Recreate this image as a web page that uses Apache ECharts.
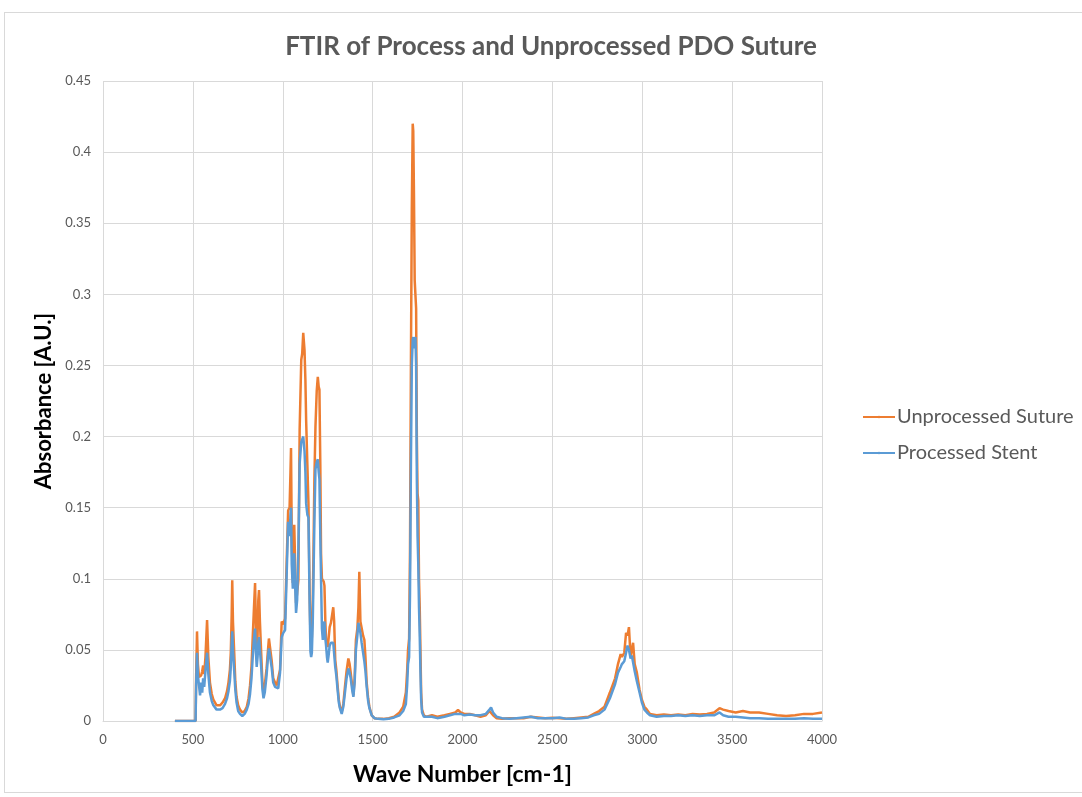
<!DOCTYPE html>
<html>
<head>
<meta charset="utf-8">
<title>FTIR of Process and Unprocessed PDO Suture</title>
<script src="https://cdn.jsdelivr.net/npm/echarts@6/dist/echarts.min.js"></script>
<style>
  html, body { margin: 0; padding: 0; background: #ffffff; }
  #frame { position: absolute; left: 4px; top: 12px; width: 1100px; height: 781px;
           border: 1px solid #d9d9d9; box-sizing: border-box; }
  #chart { position: absolute; left: 0; top: 0; width: 1082px; height: 797px; }
</style>
</head>
<body>
<div id="frame"></div>
<div id="chart"></div>
<script>
// Wavenumbers (cm-1) shared by both spectra
const wavenumber = [
  400, 515, 518, 523, 528, 534, 540, 546, 552, 557, 563, 570, 579, 586, 595, 605, 614, 632, 651, 665,
  679, 690, 698, 706, 711, 716, 719, 723, 730, 736, 743, 752, 762, 775, 788, 800, 810, 818, 826, 833,
  840, 846, 851, 855, 860, 864, 868, 873, 880, 887, 893, 900, 910, 918, 923, 929, 938, 947, 957, 966,
  975, 985, 994, 1003, 1013, 1020, 1030, 1038, 1043, 1046, 1050, 1056, 1060, 1064, 1069, 1074, 1080, 1087, 1094, 1103,
  1108, 1114, 1121, 1126, 1130, 1137, 1143, 1149, 1154, 1158, 1162, 1167, 1171, 1176, 1182, 1189, 1195, 1200, 1204, 1209,
  1213, 1218, 1223, 1228, 1232, 1237, 1241, 1246, 1250, 1255, 1261, 1268, 1275, 1281, 1286, 1292, 1298, 1305, 1312, 1318,
  1328, 1337, 1346, 1355, 1365, 1372, 1378, 1386, 1393, 1400, 1407, 1415, 1421, 1426, 1432, 1439, 1447, 1454, 1460, 1467,
  1475, 1482, 1495, 1510, 1530, 1560, 1590, 1620, 1650, 1670, 1685, 1692, 1697, 1703, 1708, 1713, 1718, 1723, 1726, 1730,
  1734, 1738, 1742, 1746, 1750, 1754, 1758, 1762, 1766, 1770, 1775, 1785, 1800, 1830, 1860, 1900, 1930, 1960, 1975, 1990,
  2010, 2040, 2070, 2100, 2130, 2150, 2159, 2170, 2190, 2220, 2260, 2300, 2340, 2380, 2420, 2460, 2500, 2540, 2580, 2620,
  2660, 2700, 2730, 2760, 2790, 2820, 2849, 2865, 2880, 2887, 2900, 2910, 2918, 2926, 2935, 2942, 2949, 2958, 2970, 2985,
  2998, 3012, 3026, 3043, 3080, 3120, 3160, 3200, 3240, 3280, 3320, 3360, 3400, 3430, 3450, 3480, 3520, 3560, 3600, 3650,
  3700, 3750, 3800, 3850, 3900, 3950, 4000
];

// Absorbance of the unprocessed suture
const unprocessedSuture = [
  0, 0, 0.03, 0.063, 0.04, 0.031, 0.03, 0.032, 0.035, 0.039, 0.033, 0.045, 0.071, 0.045, 0.027, 0.019, 0.015, 0.011, 0.011, 0.013,
  0.016, 0.021, 0.027, 0.036, 0.048, 0.075, 0.099, 0.07, 0.048, 0.028, 0.017, 0.011, 0.008, 0.006, 0.007, 0.01, 0.016, 0.025, 0.038, 0.059,
  0.08, 0.097, 0.065, 0.045, 0.06, 0.085, 0.092, 0.07, 0.048, 0.027, 0.02, 0.025, 0.037, 0.05, 0.058, 0.057, 0.043, 0.03, 0.027, 0.025,
  0.025, 0.036, 0.07, 0.068, 0.072, 0.104, 0.148, 0.15, 0.175, 0.192, 0.13, 0.097, 0.12, 0.138, 0.11, 0.083, 0.09, 0.099, 0.205, 0.254,
  0.258, 0.273, 0.261, 0.24, 0.212, 0.18, 0.153, 0.094, 0.059, 0.056, 0.059, 0.085, 0.118, 0.17, 0.207, 0.232, 0.242, 0.235, 0.233, 0.18,
  0.118, 0.1, 0.099, 0.098, 0.095, 0.07, 0.057, 0.055, 0.052, 0.058, 0.066, 0.069, 0.07, 0.08, 0.07, 0.043, 0.036, 0.025, 0.015, 0.01,
  0.0064, 0.012, 0.024, 0.035, 0.044, 0.04, 0.034, 0.025, 0.018, 0.03, 0.057, 0.065, 0.08, 0.105, 0.07, 0.069, 0.06, 0.057, 0.045, 0.027,
  0.016, 0.01, 0.004, 0.002, 0.0015, 0.0015, 0.002, 0.003, 0.006, 0.01, 0.02, 0.035, 0.05, 0.058, 0.12, 0.25, 0.36, 0.42, 0.415, 0.37,
  0.31, 0.3, 0.29, 0.2, 0.16, 0.155, 0.1, 0.08, 0.05, 0.02, 0.008, 0.004, 0.003, 0.004, 0.003, 0.004, 0.005, 0.006, 0.0077, 0.006,
  0.005, 0.005, 0.004, 0.003, 0.004, 0.007, 0.006, 0.004, 0.002, 0.0015, 0.002, 0.002, 0.002, 0.003, 0.0025, 0.002, 0.0022, 0.002, 0.0015, 0.002,
  0.0025, 0.003, 0.005, 0.007, 0.01, 0.02, 0.03, 0.04, 0.047, 0.045, 0.048, 0.062, 0.06, 0.066, 0.045, 0.05, 0.055, 0.04, 0.034, 0.022,
  0.015, 0.01, 0.008, 0.005, 0.004, 0.0045, 0.004, 0.0045, 0.004, 0.005, 0.0045, 0.005, 0.006, 0.009, 0.008, 0.007, 0.006, 0.007, 0.006, 0.006,
  0.005, 0.004, 0.0035, 0.004, 0.005, 0.005, 0.006
];

// Absorbance of the processed stent
const processedStent = [
  0, 0, 0.025, 0.048, 0.032, 0.025, 0.018, 0.027, 0.02, 0.03, 0.024, 0.035, 0.048, 0.033, 0.02, 0.014, 0.011, 0.008, 0.008, 0.009,
  0.012, 0.016, 0.021, 0.028, 0.038, 0.055, 0.063, 0.05, 0.035, 0.022, 0.013, 0.007, 0.005, 0.0035, 0.005, 0.008, 0.012, 0.019, 0.03, 0.045,
  0.058, 0.065, 0.048, 0.038, 0.045, 0.055, 0.059, 0.05, 0.038, 0.022, 0.016, 0.02, 0.032, 0.045, 0.051, 0.05, 0.038, 0.027, 0.024, 0.023,
  0.023, 0.034, 0.059, 0.062, 0.064, 0.095, 0.14, 0.13, 0.145, 0.15, 0.11, 0.093, 0.105, 0.118, 0.095, 0.076, 0.085, 0.12, 0.181, 0.196,
  0.198, 0.2, 0.19, 0.175, 0.153, 0.145, 0.143, 0.087, 0.049, 0.045, 0.048, 0.07, 0.1, 0.14, 0.177, 0.182, 0.184, 0.175, 0.17, 0.13,
  0.1, 0.065, 0.057, 0.065, 0.07, 0.058, 0.053, 0.045, 0.041, 0.046, 0.053, 0.055, 0.054, 0.055, 0.055, 0.038, 0.032, 0.022, 0.013, 0.009,
  0.005, 0.01, 0.02, 0.03, 0.037, 0.034, 0.03, 0.022, 0.017, 0.027, 0.05, 0.06, 0.069, 0.069, 0.062, 0.055, 0.048, 0.042, 0.035, 0.024,
  0.014, 0.009, 0.004, 0.002, 0.0015, 0.0012, 0.0015, 0.0025, 0.004, 0.007, 0.012, 0.025, 0.04, 0.045, 0.09, 0.18, 0.25, 0.268, 0.27, 0.262,
  0.265, 0.27, 0.25, 0.17, 0.13, 0.11, 0.08, 0.06, 0.035, 0.015, 0.006, 0.003, 0.003, 0.003, 0.002, 0.003, 0.004, 0.005, 0.005, 0.005,
  0.004, 0.0045, 0.004, 0.004, 0.005, 0.008, 0.0095, 0.006, 0.003, 0.002, 0.0015, 0.002, 0.0025, 0.003, 0.002, 0.002, 0.002, 0.0025, 0.0015, 0.0015,
  0.002, 0.0025, 0.004, 0.005, 0.008, 0.016, 0.026, 0.034, 0.038, 0.04, 0.042, 0.048, 0.053, 0.05, 0.044, 0.046, 0.045, 0.035, 0.028, 0.02,
  0.013, 0.008, 0.006, 0.004, 0.003, 0.0035, 0.0035, 0.004, 0.0035, 0.004, 0.0035, 0.004, 0.004, 0.006, 0.004, 0.003, 0.003, 0.0025, 0.002, 0.002,
  0.0015, 0.0015, 0.0015, 0.0015, 0.002, 0.0015, 0.0015
];

const seriesNames = ['Unprocessed Suture', 'Processed Stent'];
const seriesColors = ['#ED7D31', '#5B9BD5'];

const pairs = vals => wavenumber.map((w, i) => [w, vals[i]]);

const chart = echarts.init(document.getElementById('chart'), null, { renderer: 'canvas' });

const baseFont = "Lato, 'Open Sans', 'Liberation Sans', sans-serif";

chart.setOption({
  backgroundColor: 'transparent',
  animation: false,
  title: {
    text: 'FTIR of Process and Unprocessed PDO Suture',
    left: 546,
    textAlign: 'center',
    top: 29,
    textStyle: { fontFamily: baseFont, fontSize: 26, fontWeight: 'bold', color: '#595959' }
  },
  legend: {
    orient: 'vertical',
    left: 857,
    top: 402,
    itemWidth: 32,
    itemHeight: 3,
    itemGap: 16,
    data: seriesNames,
    textStyle: { fontFamily: baseFont, fontSize: 20, color: '#595959', padding: [0, 0, 0, -3] }
  },
  grid: { left: 103, right: 260, top: 81, bottom: 76, containLabel: false },
  xAxis: {
    type: 'value',
    min: 0,
    max: 4000,
    interval: 500,
    name: 'Wave Number [cm-1]',
    nameLocation: 'middle',
    nameGap: 42,
    nameTextStyle: { fontFamily: baseFont, fontSize: 23, fontWeight: 'bold', color: '#000000' },
    axisLine: { show: true, lineStyle: { color: '#d9d9d9', width: 1 } },
    axisTick: { show: false },
    axisLabel: {
      fontFamily: baseFont, fontSize: 13, color: '#595959', margin: 12,
      formatter: v => String(v)
    },
    splitLine: { show: true, lineStyle: { color: '#d9d9d9', width: 1 } }
  },
  yAxis: {
    type: 'value',
    min: 0,
    max: 0.45,
    interval: 0.05,
    name: 'Absorbance [A.U.]',
    nameLocation: 'middle',
    nameGap: 48,
    nameTextStyle: { fontFamily: baseFont, fontSize: 22, fontWeight: 'bold', color: '#000000' },
    axisLine: { show: false },
    axisTick: { show: false },
    axisLabel: {
      fontFamily: baseFont, fontSize: 13, color: '#595959', margin: 12,
      formatter: v => String(Math.round(v * 100) / 100)
    },
    splitLine: { show: true, lineStyle: { color: '#d9d9d9', width: 1 } }
  },
  series: [
    {
      name: seriesNames[0],
      type: 'line',
      data: pairs(unprocessedSuture),
      symbol: 'none',
      color: seriesColors[0],
      lineStyle: { width: 2.5, color: seriesColors[0] },
      z: 2
    },
    {
      name: seriesNames[1],
      type: 'line',
      data: pairs(processedStent),
      symbol: 'none',
      color: seriesColors[1],
      lineStyle: { width: 2.5, color: seriesColors[1] },
      z: 3
    }
  ]
});
</script>
</body>
</html>
